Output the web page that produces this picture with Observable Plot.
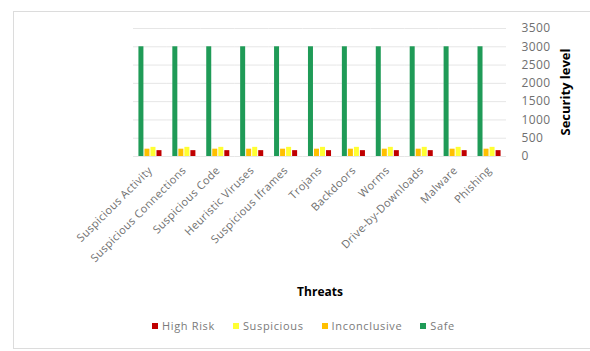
<!DOCTYPE html>
<html>
<head>
<meta charset="utf-8">
<script src="https://cdn.jsdelivr.net/npm/d3@7"></script>
<script src="https://cdn.jsdelivr.net/npm/@observablehq/plot@0.6"></script>
<style>
  html, body { margin: 0; padding: 0; background: #fff; }
  body { width: 590px; height: 351px; position: relative; overflow: hidden; font-family: "Open Sans", sans-serif; }
  #frame { position: absolute; left: 13px; top: 11px; width: 600px; height: 338px; border: 1px solid #dcdcdc; box-sizing: border-box; }
  #chart { position: absolute; left: 0; top: 0; }
  #xtitle { position: absolute; top: 283px; left: 320px; transform: translateX(-50%); font-weight: bold; font-size: 12px; color: #000; }
  #ytitle { position: absolute; left: 565px; top: 92px; transform: translate(-50%, -50%) rotate(-90deg); font-weight: bold; font-size: 13px; color: #000; white-space: nowrap; }
  #legend { position: absolute; left: 152px; top: 318px; display: flex; gap: 18px; font-size: 11px; letter-spacing: 0.65px; color: #7a7a7a; }
  #legend .item { display: flex; align-items: center; gap: 4px; }
  #legend .sw { width: 6px; height: 6px; display: inline-block; }
</style>
</head>
<body>
<div id="frame"></div>
<div id="chart"></div>
<div id="xtitle">Threats</div>
<div id="ytitle">Security level</div>
<div id="legend"></div>
<script>
// Threat categories along the bottom axis
const threats = [
  "Suspicious Activity", "Suspicious Connections", "Suspicious Code", "Heuristic Viruses",
  "Suspicious Iframes", "Trojans", "Backdoors", "Worms", "Drive-by-Downloads", "Malware", "Phishing"
];

// Series order inside each cluster, and order in the legend
const seriesOrder = ["Safe", "Inconclusive", "Suspicious", "High Risk"];
const legendOrder = ["High Risk", "Suspicious", "Inconclusive", "Safe"];
const seriesColors = ["#c00000", "#ffff33", "#ffc000", "#1f9b57"]; // matches legendOrder

// Security level per threat, one array per series
const safe         = [3000, 3000, 3000, 3000, 3000, 3000, 3000, 3000, 3000, 3000, 3000];
const inconclusive = [200, 200, 200, 200, 200, 200, 200, 200, 200, 200, 200];
const suspicious   = [250, 250, 250, 250, 250, 250, 250, 250, 250, 250, 250];
const highRisk     = [160, 160, 160, 160, 160, 160, 160, 160, 160, 160, 160];

const yTicks = [0, 500, 1000, 1500, 2000, 2500, 3000, 3500];

const valuesBySeries = { "Safe": safe, "Inconclusive": inconclusive, "Suspicious": suspicious, "High Risk": highRisk };
const rows = threats.flatMap((t, i) =>
  seriesOrder.map(s => ({ threat: t, series: s, value: valuesBySeries[s][i] }))
);

const chart = Plot.plot({
  width: 590,
  height: 300,
  marginLeft: 133,
  marginRight: 84,
  marginTop: 28,
  marginBottom: 144,
  style: { fontFamily: "Open Sans, sans-serif", fontSize: "11px", color: "#707070", background: "transparent" },
  fx: { domain: threats, padding: 0, round: false, label: null, tickRotate: -45, tickSize: 0, tickPadding: 12 },
  x: { domain: seriesOrder, axis: null, round: false, paddingInner: 0.17, paddingOuter: 0.9 },
  y: { domain: [0, 3500], axis: "right", ticks: yTicks, tickSize: 0, tickPadding: 15, label: null, tickFormat: d => String(d) },
  color: { domain: legendOrder, range: seriesColors },
  marks: [
    Plot.gridY(yTicks, { stroke: "#e6e6e6", strokeOpacity: 1 }),
    Plot.barY(rows, { fx: "threat", x: "series", y: "value", fill: "series" })
  ]
});
// Axis text spacing
chart.querySelectorAll("[aria-label='fx-axis tick label'] text").forEach(t => t.style.letterSpacing = "0.4px");
chart.querySelectorAll("[aria-label='y-axis tick label'] text").forEach(t => { t.style.fontSize = "12px"; t.style.letterSpacing = "0.4px"; });
document.getElementById("chart").append(chart);

// Legend built from the chart's own color scale
const color = chart.scale("color");
const legend = document.getElementById("legend");
const colorFn = d3.scaleOrdinal(color.domain, color.range);
legendOrder.forEach(name => {
  const item = document.createElement("span");
  item.className = "item";
  const sw = document.createElement("span");
  sw.className = "sw";
  sw.style.background = colorFn(name);
  item.append(sw, document.createTextNode(name));
  legend.append(item);
});
</script>
</body>
</html>
